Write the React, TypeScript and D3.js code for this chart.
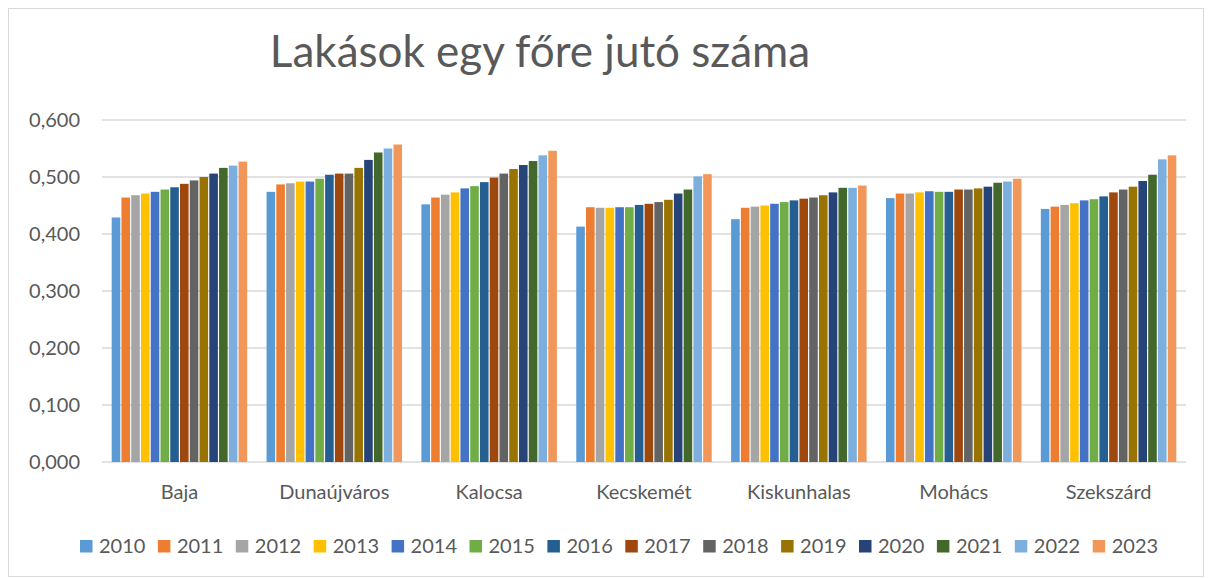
import * as d3 from "d3";

const cities = ["Baja", "Dunaújváros", "Kalocsa", "Kecskemét", "Kiskunhalas", "Mohács", "Szekszárd"];
const years = ["2010", "2011", "2012", "2013", "2014", "2015", "2016", "2017", "2018", "2019", "2020", "2021", "2022", "2023"];
const yearColors = [
  "#5B9BD5", "#ED7D31", "#A5A5A5", "#FFC000", "#4472C4", "#70AD47", "#255E91",
  "#9E480E", "#636363", "#997300", "#264478", "#43682B", "#7CAFDD", "#F1975A",
];

// one row per city, one value per year
const baja = [0.429, 0.464, 0.468, 0.471, 0.474, 0.478, 0.482, 0.488, 0.494, 0.500, 0.506, 0.516, 0.520, 0.527];
const dunaujvaros = [0.474, 0.487, 0.489, 0.492, 0.492, 0.497, 0.504, 0.506, 0.506, 0.516, 0.530, 0.543, 0.550, 0.557];
const kalocsa = [0.452, 0.464, 0.469, 0.473, 0.480, 0.484, 0.491, 0.499, 0.506, 0.514, 0.521, 0.528, 0.538, 0.546];
const kecskemet = [0.413, 0.447, 0.446, 0.446, 0.447, 0.447, 0.451, 0.453, 0.456, 0.460, 0.471, 0.478, 0.501, 0.505];
const kiskunhalas = [0.426, 0.446, 0.448, 0.450, 0.453, 0.456, 0.459, 0.462, 0.464, 0.468, 0.473, 0.481, 0.481, 0.485];
const mohacs = [0.463, 0.471, 0.471, 0.473, 0.475, 0.474, 0.474, 0.478, 0.478, 0.480, 0.483, 0.490, 0.492, 0.497];
const szekszard = [0.444, 0.448, 0.451, 0.454, 0.459, 0.461, 0.466, 0.473, 0.478, 0.483, 0.493, 0.504, 0.531, 0.538];

const values = [baja, dunaujvaros, kalocsa, kecskemet, kiskunhalas, mohacs, szekszard];
const yTicks = [0, 0.1, 0.2, 0.3, 0.4, 0.5, 0.6];

const W = 1212;
const H = 578;
const margin = { top: 120, right: 26, bottom: 116, left: 102 };
const font = "Lato, 'Open Sans', sans-serif";
const textColor = "#595959";

export default function App() {
  const innerW = W - margin.left - margin.right;
  const innerH = H - margin.top - margin.bottom;

  const x0 = d3.scaleBand().domain(cities).range([0, innerW]).paddingInner(0.11).paddingOuter(0.055);
  const x1 = d3.scaleBand().domain(years).range([0, x0.bandwidth()]).padding(0.12);
  const y = d3.scaleLinear().domain([0, 0.6]).range([innerH, 0]);
  const fmt = (v: number) => d3.format(".3f")(v).replace(".", ",");

  const legendStep = 77.9;
  const legendX = 80;

  return (
    <svg width={W} height={H} style={{ position: "absolute", left: 0, top: 0, background: "#fff" }}>
      <rect x={8.5} y={8.5} width={W - 17} height={H - 10} fill="#fff" stroke="#d9d9d9" />
      <text x={540} y={67} textAnchor="middle" fontFamily={font} fontSize={44} fill={textColor}>
        Lakások egy főre jutó száma
      </text>
      <g transform={`translate(${margin.left},${margin.top})`}>
        {yTicks.map((t) => (
          <g key={t} transform={`translate(0,${y(t)})`}>
            <line x1={0} x2={innerW} stroke="#d9d9d9" strokeWidth={1.5} />
            <text x={-22} dy="0.35em" textAnchor="end" fontFamily={font} fontSize={20} fill={textColor}>
              {fmt(t)}
            </text>
          </g>
        ))}
        {cities.map((c, ci) => (
          <g key={c} transform={`translate(${x0(c)},0)`}>
            {years.map((yr, yi) => (
              <rect
                key={yr}
                x={x1(yr)}
                y={y(values[ci][yi])}
                width={x1.bandwidth()}
                height={innerH - y(values[ci][yi])}
                fill={yearColors[yi]}
              />
            ))}
            <text
              x={x0.bandwidth() / 2}
              y={innerH + 30}
              dy="0.35em"
              textAnchor="middle"
              fontFamily={font}
              fontSize={20}
              fill={textColor}
            >
              {c}
            </text>
          </g>
        ))}
      </g>
      <g transform={`translate(0,546)`}>
        {years.map((yr, i) => (
          <g key={yr} transform={`translate(${legendX + i * legendStep},0)`}>
            <rect x={0} y={-6} width={12.5} height={12.5} fill={yearColors[i]} />
            <text x={19} dy="0.35em" fontFamily={font} fontSize={20} fill={textColor}>
              {yr}
            </text>
          </g>
        ))}
      </g>
    </svg>
  );
}
